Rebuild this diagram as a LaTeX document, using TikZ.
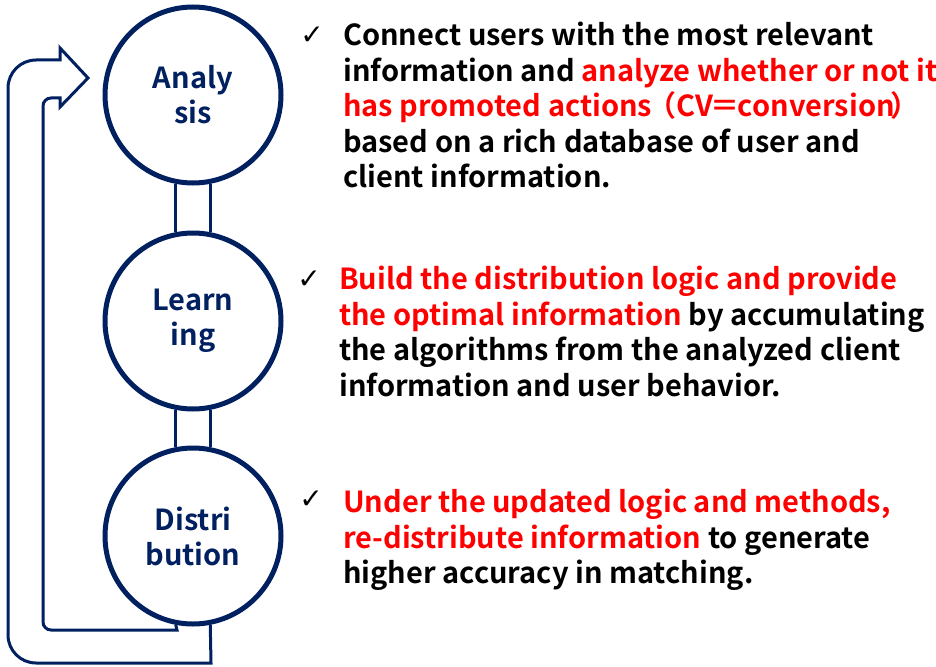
\documentclass[tikz,border=0pt]{standalone}
\usepackage{fontspec}
\setmainfont{Noto Sans CJK JP}[BoldFont=* Bold]
\newfontfamily\symfont{DejaVu Sans}
\usepackage{xcolor}
\definecolor{navy}{HTML}{002060}
\definecolor{hot}{HTML}{FF0000}
\newcommand{\hl}[1]{\textcolor{hot}{#1}}
\tikzset{
x=1pt, y=-1pt, % one unit per pixel, y runs downwards
stage/.style={circle, draw=navy, line width=5pt, fill=white, minimum size=176pt,
  text=navy, align=center, font=\bfseries\fontsize{29}{35}\selectfont}, % the three big circles
pipe/.style={draw=navy, line width=3pt}, % links between the circles
loopar/.style={draw=navy, line width=3pt, line join=miter}, % hollow feedback arrow
tick/.style={font=\symfont\fontsize{28}{28}\selectfont}, % check marks
desc/.style={anchor=north west, inner sep=0pt, align=left,
  font=\bfseries\fontsize{29}{35.5}\selectfont}, % text on the right
}

\begin{document}
\begin{tikzpicture}
        \useasboundingbox (0,0) rectangle (936,666);

        \node[stage] (ana) at (193,95) {Analy\\sis};
        \node[stage] (lea) at (193,321) {Learn\\ing};
        \node[stage] (dis) at (193,536) {Distri\\bution};

        \draw[pipe] (ana.-79) -- (lea.79)
                    (ana.-101) -- (lea.101)
                    (lea.-79) -- (dis.79)
                    (lea.-101) -- (dis.101);

        % feedback arrow back to the top
        \draw[loopar] (dis.-79) -- (211,663) [rounded corners=28pt] -- (8,663) -- (8,60)
              [sharp corners] -- (60,60) -- (60,48) -- (88,78) -- (60,107) -- (60,98)
              [rounded corners=8pt] -- (43,98) -- (43,630) [sharp corners] -- (177,630) -- (dis.-101);

        \node[tick] (t1) at (312,36) {✓};
        \node[tick] (t2) at (309,280) {✓};
        \node[tick] (t3) at (311,500) {✓};

        \node[desc] (d1) at (343,22) {Connect users with the most relevant\\
              information and \hl{analyze whether or not it}\\
              \hl{has promoted actions\hspace{-5pt}（CV\hspace{-2pt}＝\hspace{-2pt}conversion\hspace{-4pt}）}\\
              based on a rich database of user and\\
              client information.};
        \node[desc] (d2) at (339,266) {\hl{Build the distribution logic and provide}\\
              \hl{the optimal information} by accumulating\\
              the algorithms from the analyzed client\\
              information and user behavior.};
        \node[desc] (d3) at (343,489) {\hl{Under the updated logic and methods,}\\
              \hl{re-distribute information} to generate\\
              higher accuracy in matching.};
    \end{tikzpicture}
\end{document}
